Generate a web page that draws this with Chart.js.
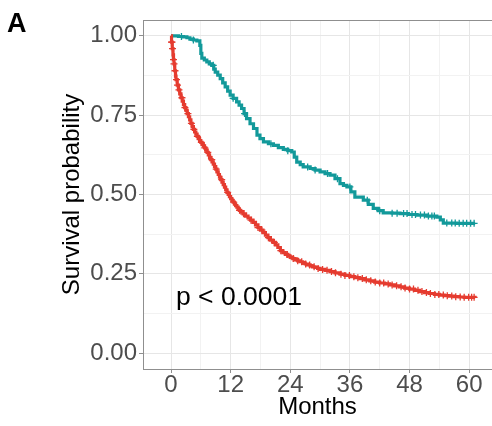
<!DOCTYPE html>
<html>
<head>
<meta charset="utf-8">
<script src="https://cdn.jsdelivr.net/npm/chart.js@4.4.1/dist/chart.umd.min.js"></script>
<style>
  html,body{margin:0;padding:0;background:#fff}
  #wrap{position:relative;width:492px;height:426px}
</style>
</head>
<body>
<div id="wrap"><canvas id="km" width="492" height="426"></canvas></div>
<script>
// curve 1 (red) - step times (months) and survival
const redT = [0,0.1,0.25,0.4,0.5,0.6,0.75,0.9,1,1.25,1.5,1.75,2,2.25,2.5,2.75,3,3.25,3.5,3.75,4,4.25,4.5,4.75,5,5.25,5.5,5.75,6,6.25,6.5,6.75,7,7.25,7.5,7.75,8,8.25,8.5,8.75,9,9.25,9.5,9.75,10,10.25,10.5,10.75,11,11.25,11.5,11.75,12,12.25,12.5,12.75,13,13.25,13.5,13.75,14,14.5,15,15.5,16,16.5,17,17.5,18,18.5,19,19.5,20,20.5,21,21.5,22,22.5,23,23.5,24,24.5,25,25.5,26,26.5,27,27.5,28,28.5,29,29.5,30,31,32,33,34,35,36,37,38,39,40,41,42,43,44,45,46,47,48,49,50,51,52,53,54,55,56,57,58,59,60,61.2];
const redS = [1,0.98,0.96,0.94,0.925,0.912,0.89,0.873,0.862,0.845,0.83,0.817,0.805,0.794,0.783,0.774,0.765,0.755,0.745,0.735,0.724,0.714,0.705,0.697,0.69,0.683,0.676,0.67,0.664,0.659,0.653,0.647,0.64,0.633,0.625,0.617,0.61,0.603,0.596,0.588,0.58,0.571,0.563,0.555,0.547,0.539,0.531,0.523,0.515,0.507,0.5,0.493,0.487,0.481,0.476,0.47,0.465,0.46,0.455,0.45,0.446,0.439,0.432,0.426,0.419,0.412,0.404,0.396,0.388,0.38,0.372,0.364,0.356,0.349,0.341,0.333,0.323,0.317,0.311,0.306,0.302,0.298,0.295,0.291,0.288,0.284,0.281,0.278,0.275,0.272,0.27,0.267,0.264,0.261,0.257,0.253,0.249,0.245,0.241,0.238,0.235,0.231,0.228,0.224,0.221,0.218,0.215,0.212,0.209,0.205,0.202,0.198,0.194,0.191,0.188,0.185,0.183,0.181,0.18,0.178,0.177,0.176,0.176,0.175];
const redCens = [0.1,0.2,0.3,0.5,0.6,0.8,1.1,1.3,1.6,2.2,2.8,3.4,4.1,4.6,5.3,6.1,6.8,7.4,8.2,9.1,10.2,11.4,12.6,13.8,14.6,16.1,17.5,18.3,19.6,20.8,22.1,23.4,24.6,25.5,26.3,27.1,27.9,28.8,29.6,30.5,31.4,32.3,33.1,34.2,35,35.9,36.8,37.6,38.5,39.3,40.2,41.1,42,42.8,43.7,44.5,45.4,46.3,47.1,48,48.8,49.7,50.5,51.4,52.2,53.1,53.9,54.8,55.6,56.5,57.3,58.2,59,59.9,60.5,61];

// curve 2 (teal)
const tealT = [0,1.5,2.5,3.2,3.8,4.5,5.2,5.8,6,6.2,6.7,7.2,7.7,8.2,8.6,8.9,9.4,9.9,10.4,10.9,11.4,11.9,12.5,13.2,13.7,14.2,14.7,15.2,15.9,16.6,17.3,17.9,18.6,19.6,20.6,21.6,22.6,23.5,24.3,24.8,25.3,26,26.6,28,29,30,31,32,33,34,34.7,35.4,36.2,37,38.7,39.7,40.7,41.7,42.7,44.5,46.1,47.8,49.5,51.5,53.5,54.2,54.8,57.5,61.2];
const tealS = [1,0.998,0.997,0.994,0.99,0.987,0.984,0.97,0.945,0.93,0.924,0.918,0.912,0.907,0.895,0.886,0.876,0.865,0.852,0.839,0.826,0.813,0.803,0.792,0.782,0.771,0.755,0.739,0.723,0.708,0.687,0.676,0.666,0.66,0.655,0.648,0.642,0.638,0.634,0.618,0.602,0.594,0.587,0.582,0.577,0.571,0.566,0.561,0.55,0.534,0.529,0.524,0.508,0.492,0.482,0.469,0.456,0.449,0.442,0.441,0.44,0.437,0.435,0.432,0.429,0.42,0.41,0.409,0.409];
const tealCens = [2.1,4.5,8.5,12.5,14.8,20.1,23.5,27.5,29,31.5,33.5,36,39.5,42,44.5,45.5,46.8,47.5,48.5,49.2,50.2,51,51.8,52.5,53,55.5,56.5,57.2,58,58.8,59.5,60.3,61];

const xMajor = [0,12,24,36,48,60];
const xMinor = [6,18,30,42,54];
const yMajor = [0,0.25,0.5,0.75,1];
const yMinor = [0.125,0.375,0.625,0.875];

const RED = '#E53B2F', TEAL = '#12999A';
const FONT = "'Liberation Sans', Arial, sans-serif";

const pts = (t,s) => t.map((v,i)=>({x:v,y:s[i]}));
// survival value at time x on a step curve
const survAt = (t,s,x) => { let v=s[0]; for(let i=0;i<t.length;i++){ if(t[i]<=x) v=s[i]; else break; } return v; };
const cens = (t,s,c) => c.map(x=>({x:x,y:survAt(t,s,x)}));

const topFrame = {
  id:'topFrame',
  afterDraw(chart){
    const {ctx, chartArea:a, scales} = chart;
    ctx.save();
    ctx.strokeStyle='#8f8f8f'; ctx.lineWidth=1;
    ctx.beginPath(); ctx.moveTo(a.left, a.top+0.5); ctx.lineTo(a.right, a.top+0.5); ctx.stroke();
    ctx.fillStyle='#000';
    ctx.font='bold 27px '+FONT; ctx.textBaseline='alphabetic'; ctx.textAlign='left';
    ctx.fillText('A', 7, 32);
    ctx.font='26.5px '+FONT;
    ctx.fillText('p < 0.0001', scales.x.getPixelForValue(1.0), scales.y.getPixelForValue(0.153));
    ctx.restore();
  }
};

const isMajor = (arr,v) => arr.some(m=>Math.abs(m-v)<1e-9);

new Chart(document.getElementById('km'), {
  type:'line',
  data:{datasets:[
    {data:pts(redT,redS), borderColor:RED, borderWidth:3.2, stepped:'before', pointRadius:0, fill:false},
    {data:cens(redT,redS,redCens), showLine:false, pointStyle:'cross', pointRadius:3.5, borderColor:RED, borderWidth:1.3},
    {data:pts(tealT,tealS), borderColor:TEAL, borderWidth:3.2, stepped:'before', pointRadius:0, fill:false},
    {data:cens(tealT,tealS,tealCens), showLine:false, pointStyle:'cross', pointRadius:3.5, borderColor:TEAL, borderWidth:1.3}
  ]},
  options:{
    responsive:false, animation:false, devicePixelRatio:1,
    layout:{autoPadding:false, padding:{top:20,left:0,right:0,bottom:0}},
    plugins:{legend:{display:false}, tooltip:{enabled:false}},
    scales:{
      x:{type:'linear', min:-5.64, max:64.6,
        afterBuildTicks(s){ s.ticks = [...xMajor,...xMinor].sort((a,b)=>a-b).map(v=>({value:v})); },
        afterFit(s){ s.height = 57; s.paddingLeft = 0; s.paddingRight = 0; },
        ticks:{autoSkip:false, maxRotation:0, padding:-2, color:'#4D4D4D', font:{family:FONT,size:24},
          callback:v=> isMajor(xMajor,v) ? String(v) : ''},
        grid:{color:c=>isMajor(xMajor,c.tick.value)?'#E6E6E6':'#F2F2F2', tickLength:4,
          tickColor:c=>isMajor(xMajor,c.tick.value)?'#8f8f8f':'rgba(0,0,0,0)'},
        border:{display:true, color:'#8f8f8f', width:1},
        title:{display:true, text:'Months', color:'#000', font:{family:FONT,size:24}, padding:{top:0,bottom:4}}
      },
      y:{type:'linear', min:-0.05, max:1.05,
        afterBuildTicks(s){ s.ticks = [...yMajor,...yMinor].sort((a,b)=>a-b).map(v=>({value:v})); },
        afterFit(s){ s.width = 143; s.paddingTop = 0; s.paddingBottom = 0; },
        ticks:{autoSkip:false, padding:2, color:'#4D4D4D', font:{family:FONT,size:24},
          callback:v=> isMajor(yMajor,v) ? v.toFixed(2) : ''},
        grid:{color:c=>isMajor(yMajor,c.tick.value)?'#E6E6E6':'#F2F2F2', tickLength:4,
          tickColor:c=>isMajor(yMajor,c.tick.value)?'#8f8f8f':'rgba(0,0,0,0)'},
        border:{display:true, color:'#8f8f8f', width:1},
        title:{display:true, text:'Survival probability', color:'#000', font:{family:FONT,size:24}, padding:{top:58,bottom:0}}
      }
    }
  },
  plugins:[topFrame]
});
</script>
</body>
</html>
